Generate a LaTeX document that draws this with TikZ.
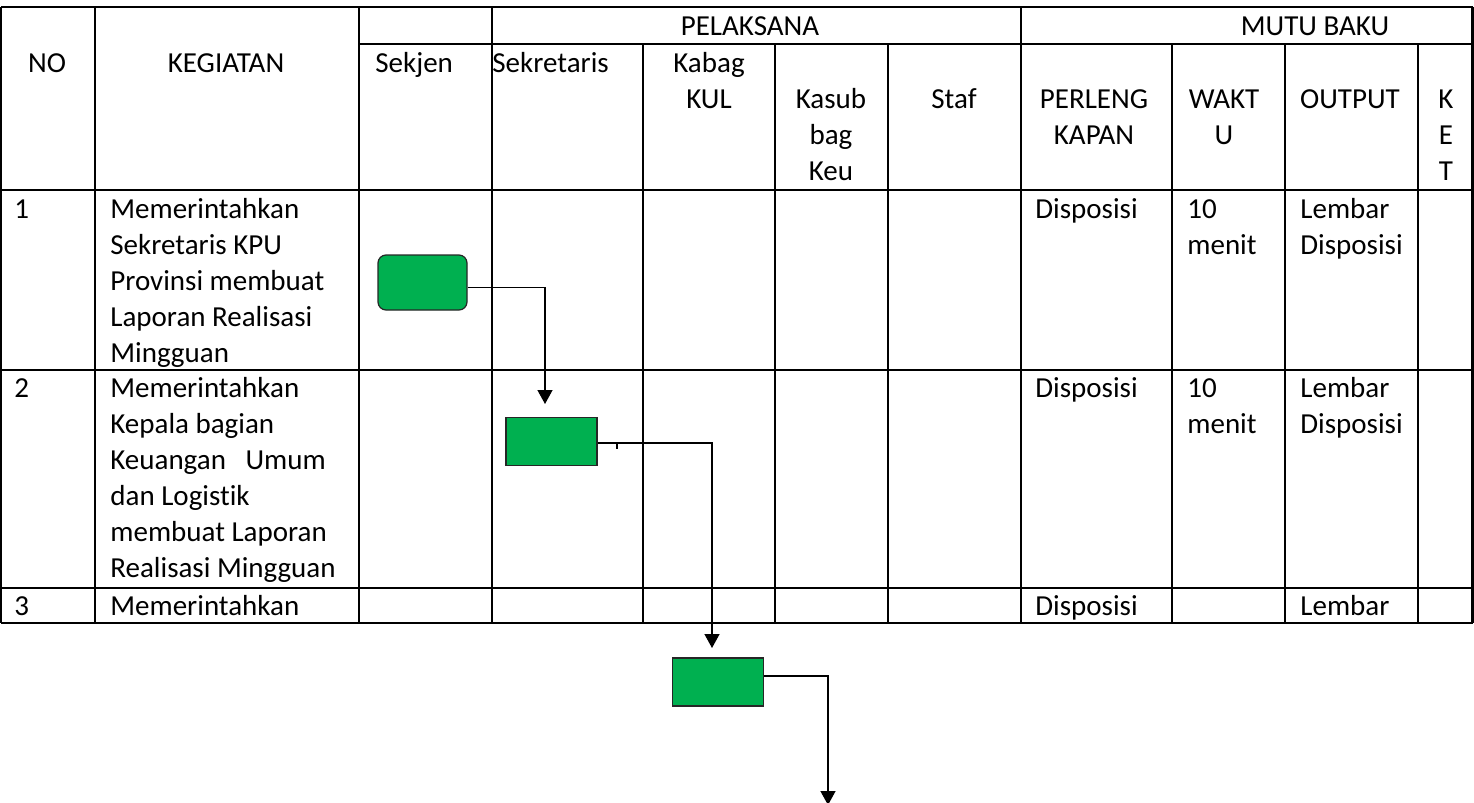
\documentclass[tikz,border=0pt]{standalone}
\usepackage{fontspec}
\setmainfont{Carlito}[Ligatures={NoCommon}]
\usetikzlibrary{arrows.meta}
\definecolor{boxgreen}{HTML}{00B050}
\newcommand{\cellfont}{\fontsize{14.5}{18}\selectfont}
\begin{document}
\begin{tikzpicture}[x=0.5pt,y=-0.5pt,
  grid/.style={line width=1.25pt,black},
  lt/.style={font=\cellfont,inner sep=0pt,anchor=base west,align=left},
  ct/.style={font=\cellfont,inner sep=0pt,anchor=base,align=center},
  actbox/.style={draw=black!85,line width=0.6pt,fill=boxgreen,minimum width=45.5pt,minimum height=24pt,inner sep=0pt},
  startbox/.style={actbox,rounded corners=4pt,minimum width=44.5pt,minimum height=27.5pt},
  flow/.style={line width=0.7pt,black},
  arr/.style={flow,-{Triangle[width=7.5pt,length=7pt]}}]
\useasboundingbox (0,0) rectangle (1474,803);
% ---- table grid ----
\draw[grid] (1,7) -- (1472.5,7);
\draw[grid] (359,44) -- (1472.5,44);
\foreach \yy in {190,370,588,623} \draw[grid] (1,\yy) -- (1472.5,\yy);
\foreach \xx in {1,95,359,492,1021,1472.5} \draw[grid] (\xx,7) -- (\xx,623);
\foreach \xx in {643,775,888,1172,1285,1418} \draw[grid] (\xx,44) -- (\xx,623);
% ---- header texts (multi-line nodes are placed by their last baseline) ----
\node[ct] (hpel) at (750,35) {PELAKSANA};
\node[ct] (hmutu) at (1315,35) {MUTU BAKU};
\node[ct] (hno) at (47,72) {NO};
\node[ct] (hkeg) at (226,72) {KEGIATAN};
\node[lt] (hsekjen) at (375,72) {Sekjen};
\node[lt] (hsekr) at (492,72) {Sekretaris};
\node[ct] (hkabag) at (709,108) {Kabag\\KUL};
\node[ct] (hkasub) at (831,180) {Kasub\\bag\\Keu};
\node[ct] (hstaf) at (954,108) {Staf};
\node[ct] (hperl) at (1094,144) {PERLENG\\KAPAN};
\node[ct] (hwaktu) at (1224,144) {WAKT\\U};
\node[ct] (hout) at (1350,108) {OUTPUT};
\node[ct] (hket) at (1446,180) {K\\E\\T};
% ---- row 1 ----
\node[lt] (n1) at (14,218) {1};
\node[lt] (k1) at (110,362) {Memerintahkan\\Sekretaris KPU\\Provinsi membuat\\Laporan Realisasi\\Mingguan};
\node[lt] (p1) at (1035,218) {Disposisi};
\node[lt] (w1) at (1187,254) {10\\menit};
\node[lt] (o1) at (1300,254) {Lembar\\Disposisi};
% ---- row 2 ----
\node[lt] (n2) at (14,397) {2};
\node[lt] (k2) at (110,577) {Memerintahkan\\Kepala bagian\\Keuangan \ \ Umum\\dan Logistik\\membuat Laporan\\Realisasi Mingguan};
\node[lt] (p2) at (1035,397) {Disposisi};
\node[lt] (w2) at (1187,433) {10\\menit};
\node[lt] (o2) at (1300,433) {Lembar\\Disposisi};
% ---- row 3 ----
\node[lt] (n3) at (14,615) {3};
\node[lt] (k3) at (110,615) {Memerintahkan};
\node[lt] (p3) at (1035,615) {Disposisi};
\node[lt] (o3) at (1300,615) {Lembar};
% ---- flow boxes ----
\node[startbox] (b1) at (422.5,282.5) {};
\node[actbox] (b2) at (551.5,441.5) {};
\node[actbox] (b3) at (718,682) {};
\coordinate (a1) at (545,404);
\coordinate (a2) at (712,648);
\coordinate (a3) at (828,805);
\draw[arr] ([yshift=-2.6pt]b1.east) -| (a1);
\draw[arr] ([yshift=-0.8pt]b2.east) -| (a2);
\draw[arr] ([yshift=3pt]b3.east) -| (a3);
\coordinate (t1) at (617,444);
\coordinate (t2) at (617,449);
\draw[flow] (t1) -- (t2);
\end{tikzpicture}
\end{document}
